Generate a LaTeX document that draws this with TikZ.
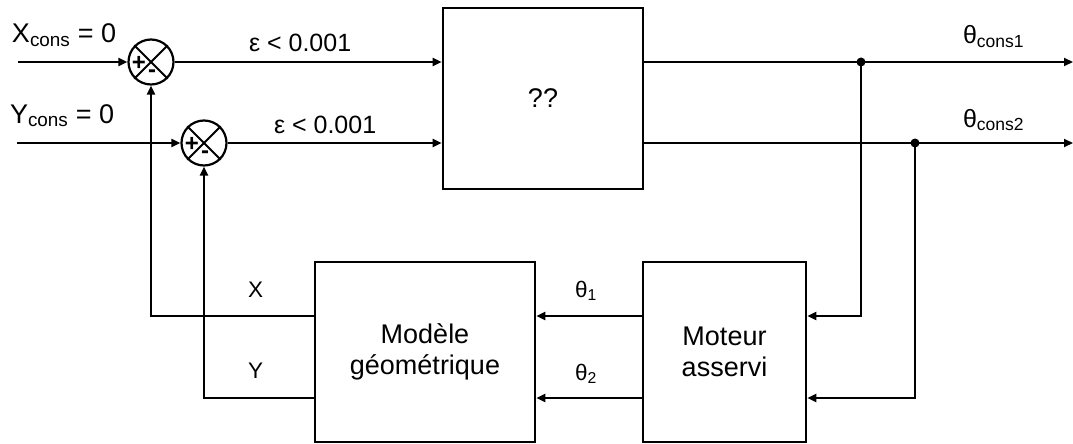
\documentclass[tikz,border=0pt]{standalone}
\usepackage{fontspec}
\setmainfont{Liberation Sans}
\usetikzlibrary{arrows.meta}
\begin{document}
\begin{tikzpicture}[x=1pt,y=-1pt,
  font=\fontsize{27}{31}\selectfont,
  line width=2pt,
  arr/.style={-{Triangle[length=9pt,width=8pt]}},
  blk/.style={draw,line width=2.6pt,inner sep=0pt,align=center},
  sumj/.style={draw,circle,line width=2.2pt,minimum size=45pt,inner sep=0pt},
  lbl/.style={inner sep=0pt},
  big/.style={font=\fontsize{27}{31}\selectfont},
  mid/.style={font=\fontsize{25}{30}\selectfont},
  sml/.style={font=\fontsize{22.5}{26}\selectfont},
  sgn/.style={font=\bfseries\fontsize{24}{24}\selectfont,inner sep=0pt},
  dot/.style={circle,fill,inner sep=0pt,minimum size=9pt}]
\useasboundingbox (0,0) rectangle (1073,444);
% blocks
\node[blk,minimum width=200pt,minimum height=181pt] (C) at (543,98.5) {??};
\node[blk,minimum width=220pt,minimum height=180pt] (M) at (425,352) {Modèle\\géométrique};
\node[blk,minimum width=163pt,minimum height=180pt] (A) at (724.5,352) {Moteur\\asservi};
% summing junctions
\node[sumj] (S1) at (151,62) {};
\node[sumj] (S2) at (204,143) {};
\foreach \s in {S1,S2}{
  \draw[line width=1.8pt] (\s.45) -- (\s.225) (\s.135) -- (\s.315);
  \node[sgn] at ([xshift=-12pt,yshift=-1pt]\s.center) {+};
  \node[sgn] at ([xshift=1pt,yshift=-12pt]\s.center) {-};
}
% inputs
\coordinate (in1) at (18,62);
\coordinate (in2) at (17,143);
\draw[arr] (in1) -- (S1.west);
\draw[arr] (in2) -- (S2.west);
\node[lbl,big,anchor=base west] (lx) at (11,43) {X\textsubscript{cons} = 0};
\node[lbl,big,anchor=base west] (ly) at (9,123) {Y\textsubscript{cons} = 0};
% errors to controller
\draw[arr] (S1.east) -- (C.west |- S1.east);
\draw[arr] (S2.east) -- (C.west |- S2.east);
\node[lbl,mid,anchor=base west] (e1) at (248,52) {ε < 0.001};
\node[lbl,mid,anchor=base west] (e2) at (273,133) {ε < 0.001};
% outputs
\coordinate (o1) at (1073,62);
\coordinate (o2) at (1073,143);
\draw[arr] (C.east |- o1) -- (o1);
\draw[arr] (C.east |- o2) -- (o2);
\node[dot] (d1) at (861,62) {};
\node[dot] (d2) at (915,143) {};
\node[lbl,mid,anchor=base west] (t1) at (962,44) {θ\textsubscript{cons1}};
\node[lbl,mid,anchor=base west] (t2) at (962,127) {θ\textsubscript{cons2}};
% to motor
\coordinate (a1) at (A.east |- 0,316);
\coordinate (a2) at (A.east |- 0,398);
\draw[arr] (d1.center) |- (a1);
\draw[arr] (d2.center) |- (a2);
% motor to model
\draw[arr] (a1 -| A.west) -- (a1 -| M.east);
\draw[arr] (a2 -| A.west) -- (a2 -| M.east);
\node[lbl,sml,anchor=base west] (th1) at (574,297) {θ\textsubscript{1}};
\node[lbl,sml,anchor=base west] (th2) at (574,380) {θ\textsubscript{2}};
% feedback
\draw[arr] (a1 -| M.west) -| (S1.south);
\draw[arr] (a2 -| M.west) -| (S2.south);
\node[lbl,sml,anchor=base west] (lX) at (247,297) {X};
\node[lbl,sml,anchor=base west] (lY) at (247,378) {Y};
\end{tikzpicture}
\end{document}
